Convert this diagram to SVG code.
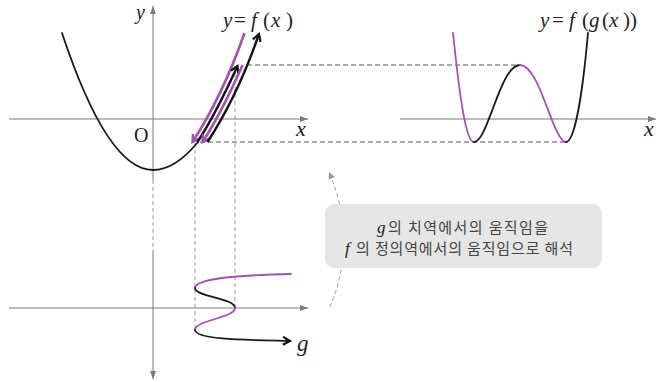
<svg xmlns="http://www.w3.org/2000/svg" width="658" height="382" viewBox="0 0 658 382">
<style>
.axis{stroke:#7a7a7a;stroke-width:1;fill:none}
.crv{fill:none;stroke:#1a1a1a;stroke-width:1.8;stroke-linecap:round}
.pur{fill:none;stroke:#a450b4;stroke-width:1.8;stroke-linecap:round}
.arrK{fill:none;stroke:#111;stroke-width:2.4}
.arrP{fill:none;stroke:#a450b4;stroke-width:2.6}
.dashH{stroke:#555;stroke-width:1;stroke-dasharray:5 3;fill:none}
.dashV{stroke:#9a9a9a;stroke-width:1;stroke-dasharray:4 3;fill:none}
.math{font-family:"Liberation Serif",serif;font-style:italic;fill:#222}
.up{font-style:normal}
.rom{font-family:"Liberation Serif",serif;fill:#222}
.kr{font-family:"Noto Sans CJK KR","Noto Sans",sans-serif;font-size:15px;fill:#444}
</style>
<defs>
<marker id="ax" markerUnits="userSpaceOnUse" markerWidth="9" markerHeight="7" refX="8" refY="3" orient="auto">
<path d="M0,0 L8,3 L0,6 z" fill="#7a7a7a"/>
</marker>
<marker id="chK" markerUnits="userSpaceOnUse" markerWidth="12" markerHeight="12" refX="8" refY="5" orient="auto">
<path d="M1,1 L8,5 L1,9" fill="none" stroke="#111" stroke-width="2.2" stroke-linejoin="miter"/>
</marker>
<marker id="chP" markerUnits="userSpaceOnUse" markerWidth="12" markerHeight="12" refX="8" refY="5" orient="auto">
<path d="M1,1 L8,5 L1,9" fill="none" stroke="#a450b4" stroke-width="2.4"/>
</marker>
<marker id="gr" markerUnits="userSpaceOnUse" markerWidth="9" markerHeight="8" refX="7" refY="3.5" orient="auto">
<path d="M0,0 L7,3.5 L0,7 z" fill="#999"/>
</marker>
</defs>

<g id="connectors">
<line class="dashH" x1="247" y1="65" x2="520" y2="65"/>
<line class="dashH" x1="200" y1="142" x2="566" y2="142"/>
<line class="dashV" x1="195" y1="143" x2="195" y2="330"/>
<line class="dashV" x1="235" y1="66" x2="235" y2="308"/>
<line class="dashV" x1="153" y1="180" x2="153" y2="250"/>
<path d="M330,307 Q358,240 329,172" fill="none" stroke="#999" stroke-width="1" stroke-dasharray="4 3" marker-end="url(#gr)"/>
</g>

<g id="graph-f">
<line class="axis" x1="9" y1="119" x2="308" y2="119" marker-end="url(#ax)"/>
<line class="axis" x1="153" y1="180" x2="153" y2="6" marker-end="url(#ax)"/>
<text class="math" x="136" y="19" font-size="20">y</text>
<text class="rom" x="134" y="142" font-size="20">O</text>
<text class="math" x="296" y="136" font-size="22">x</text>
<text class="math" font-size="21" y="27"><tspan x="223">y</tspan><tspan class="up" x="234">=</tspan><tspan x="251">f</tspan><tspan class="up" x="263">(</tspan><tspan x="271">x</tspan><tspan class="up" x="286">)</tspan></text>
<path class="crv" d="M62,33 Q107.5,170 153,170 Q175,170 198,142"/>
<path class="arrP" d="M244.5,33 C231.9,69 215.9,106 192.5,142" marker-end="url(#chP)"/>
<path class="arrK" d="M197.5,142 C214.5,116 226.1,91 237.5,66" marker-end="url(#chK)"/>
<path class="arrP" d="M242.5,65 C231.1,91 219.5,116 202.5,142" marker-end="url(#chP)"/>
<path class="arrK" d="M207.5,142 C230.9,106 246.9,69 259,34" marker-end="url(#chK)"/>
</g>

<g id="graph-fg">
<line class="axis" x1="400" y1="119" x2="656" y2="119" marker-end="url(#ax)"/>
<text class="math" x="644" y="136" font-size="22">x</text>
<text class="math" font-size="21" y="27"><tspan x="540">y</tspan><tspan class="up" x="552">=</tspan><tspan x="569">f</tspan><tspan class="up" x="582">(</tspan><tspan x="589">g</tspan><tspan class="up" x="602">(</tspan><tspan x="609">x</tspan><tspan class="up" x="623">)</tspan><tspan class="up" x="630">)</tspan></text>
<path class="pur" d="M453,33 C460,100 466,142 474,142"/>
<path class="crv" d="M474,142 C488,142 500,65 520,65"/>
<path class="pur" d="M520,65 C540,65 553,142 566,142"/>
<path class="crv" d="M566,142 C574,142 582,100 588,33"/>
</g>

<g id="graph-g">
<line class="axis" x1="9" y1="308" x2="308" y2="308" marker-end="url(#ax)"/>
<line class="axis" x1="153" y1="250" x2="153" y2="379" marker-end="url(#ax)"/>
<path class="pur" d="M291,274 C250,275 196,277 195,288"/>
<path class="crv" d="M195,288 C195,297 235,298 235,308"/>
<path class="pur" d="M235,308 C235,318 195,320 195,330"/>
<path class="crv" d="M195,330 C196,340 250,340 290,341" marker-end="url(#chK)"/>
<text class="math" x="297" y="351" font-size="23">g</text>
</g>

<g id="note">
<rect x="325" y="204" width="277" height="64" rx="9" fill="#e6e6e6"/>
<text class="math" x="377" y="233" font-size="17" fill="#444">g</text>
<text class="kr" x="388" y="233" textLength="160" lengthAdjust="spacing">의 치역에서의 움직임을</text>
<text class="math" x="345" y="254" font-size="17" fill="#444">f</text>
<text class="kr" x="356" y="254" textLength="217" lengthAdjust="spacing">의 정의역에서의 움직임으로 해석</text>
</g>
</svg>
